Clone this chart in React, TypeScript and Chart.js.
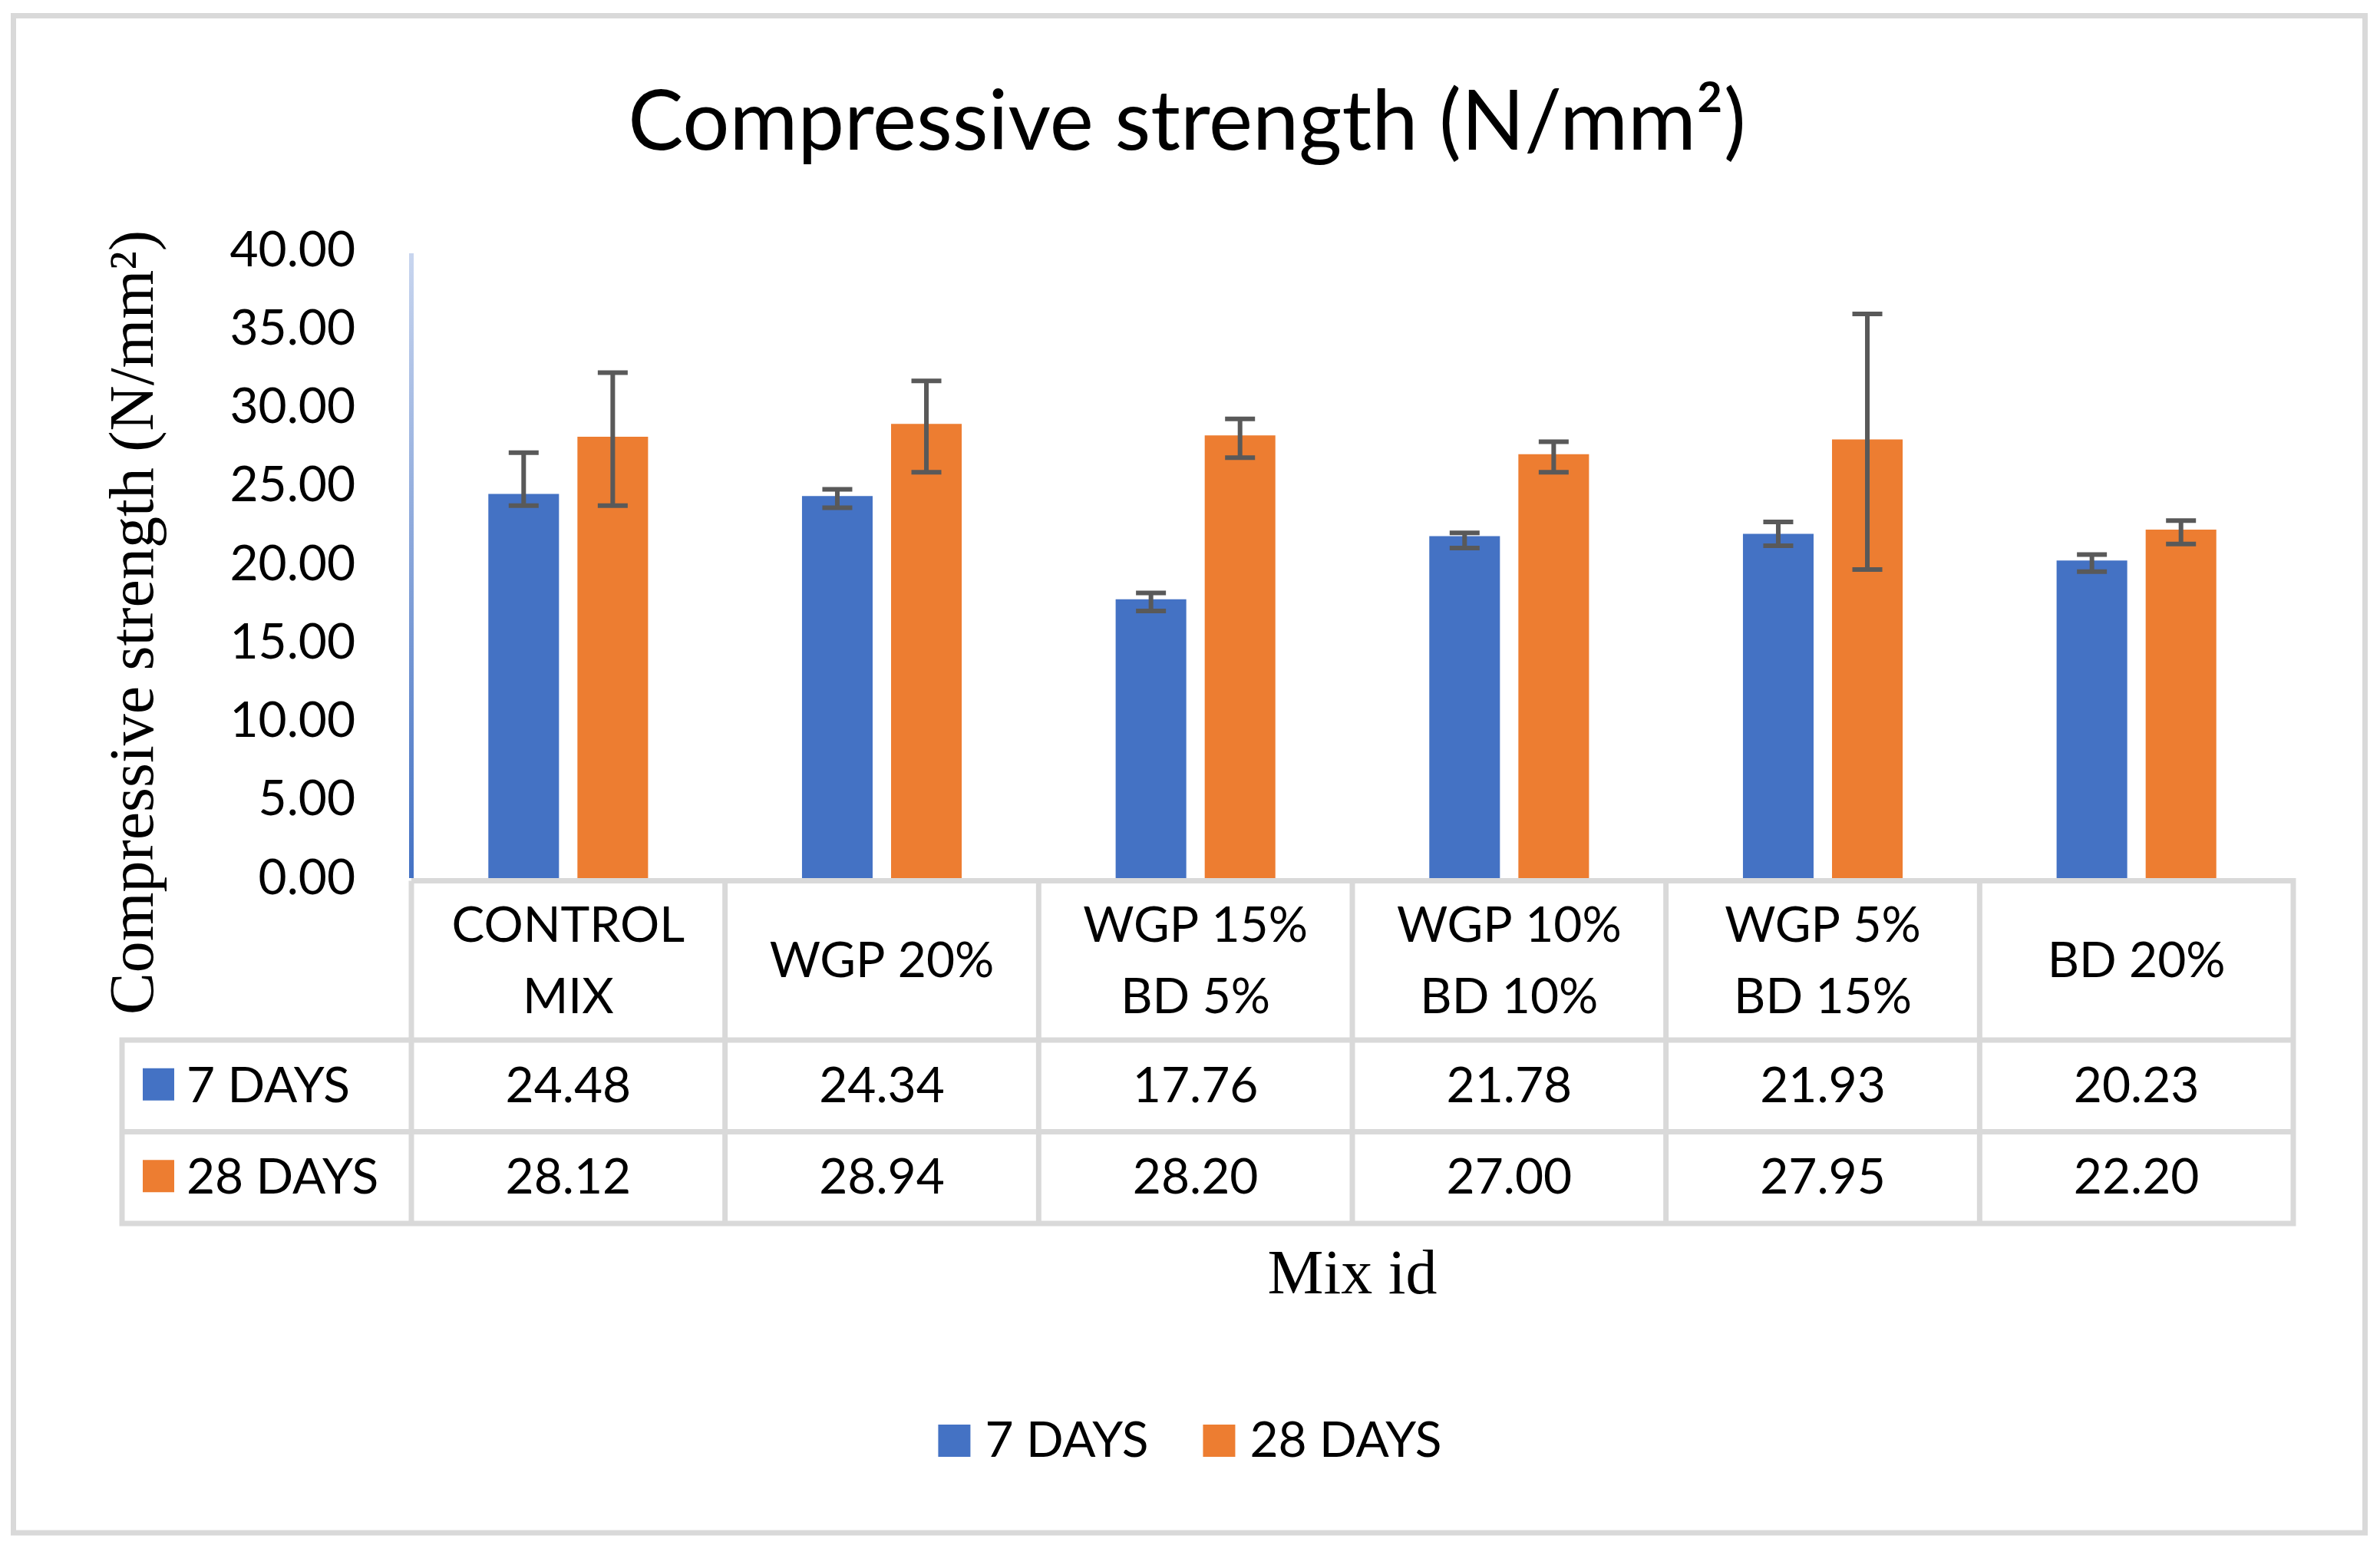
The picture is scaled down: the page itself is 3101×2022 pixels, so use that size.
import React, { useEffect, useRef } from 'react';
import { Chart, registerables } from 'chart.js';

Chart.register(...registerables);

// ---------- data ----------
const categories: string[][] = [
  ['CONTROL', 'MIX'],
  ['WGP 20%'],
  ['WGP 15%', 'BD 5%'],
  ['WGP 10%', 'BD 10%'],
  ['WGP 5%', 'BD 15%'],
  ['BD 20%'],
];
const seriesNames = ['7 DAYS', '28 DAYS'];
const days7 = [24.48, 24.34, 17.76, 21.78, 21.93, 20.23];
const days28 = [28.12, 28.94, 28.2, 27.0, 27.95, 22.2];
const days7ErrHigh = [27.1, 24.77, 18.17, 21.99, 22.69, 20.61];
const days7ErrLow = [23.73, 23.59, 17.02, 21.03, 21.17, 19.52];
const days28ErrHigh = [32.2, 31.67, 29.26, 27.8, 35.94, 22.77];
const days28ErrLow = [23.73, 25.86, 26.79, 25.86, 19.66, 21.28];
const yMin = 0;
const yMax = 40;
const yStep = 5;
const chartTitle = 'Compressive strength (N/mm\u00B2)';
const yTitle = 'Compressive strength (N/mm\u00B2)';
const xTitle = 'Mix id';

const colors = ['#4472C4', '#ED7D31'];
const errHigh = [days7ErrHigh, days28ErrHigh];
const errLow = [days7ErrLow, days28ErrLow];

const SANS = 'Lato, "Open Sans", sans-serif';
const SERIF = '"Liberation Serif", "Times New Roman", serif';
const GRID = '#D9D9D9';

const decorPlugin = {
  id: 'decor',
  beforeDraw(chart: any) {
    const { ctx, width, height } = chart;
    ctx.save();
    ctx.fillStyle = '#FFFFFF';
    ctx.fillRect(0, 0, width, height);
    ctx.restore();
  },
  afterDatasetsDraw(chart: any) {
    const { ctx } = chart;
    const yScale = chart.scales.y;
    ctx.save();
    ctx.strokeStyle = '#595959';
    ctx.lineWidth = 6;
    ctx.lineCap = 'butt';
    chart.data.datasets.forEach((ds: any, di: number) => {
      const meta = chart.getDatasetMeta(di);
      meta.data.forEach((bar: any, i: number) => {
        const x = bar.x;
        const yh = yScale.getPixelForValue(errHigh[di][i]);
        const yl = yScale.getPixelForValue(errLow[di][i]);
        const half = 19.5;
        ctx.beginPath();
        ctx.moveTo(x, yh);
        ctx.lineTo(x, yl);
        ctx.moveTo(x - half, yh);
        ctx.lineTo(x + half, yh);
        ctx.moveTo(x - half, yl);
        ctx.lineTo(x + half, yl);
        ctx.stroke();
      });
    });
    ctx.restore();
  },
  afterDraw(chart: any) {
    const { ctx, chartArea: area, width } = chart;
    const xScale = chart.scales.x;
    const n = chart.data.labels.length;
    const colW = (xScale.right - xScale.left) / n;
    ctx.save();

    // outer border
    ctx.strokeStyle = GRID;
    ctx.lineWidth = 7;
    ctx.strokeRect(17.5, 20.5, 3064, 1976.5);

    // title
    ctx.fillStyle = '#000000';
    ctx.font = `108px ${SANS}`;
    ctx.textAlign = 'center';
    ctx.textBaseline = 'alphabetic';
    ctx.fillText(chartTitle, width / 2 - 4, 195);

    // y axis line (gradient)
    const grad = ctx.createLinearGradient(0, area.top, 0, area.bottom);
    grad.addColorStop(0, '#C9D6EF');
    grad.addColorStop(1, '#4472C4');
    ctx.strokeStyle = grad;
    ctx.lineWidth = 6;
    ctx.beginPath();
    ctx.moveTo(area.left, area.top + 4);
    ctx.lineTo(area.left, area.bottom);
    ctx.stroke();

    // y axis title
    ctx.save();
    ctx.translate(199, 811);
    ctx.rotate(-Math.PI / 2);
    ctx.font = `82px ${SERIF}`;
    ctx.fillStyle = '#000000';
    ctx.textAlign = 'center';
    ctx.fillText(yTitle, 0, 0);
    ctx.restore();

    // data table
    const tTop = area.bottom + 3.5;
    const hdrBottom = area.bottom + 211;
    const r1Bottom = area.bottom + 330.5;
    const r2Bottom = area.bottom + 450;
    const labelLeft = 159;
    ctx.strokeStyle = GRID;
    ctx.lineWidth = 7;
    ctx.beginPath();
    ctx.moveTo(xScale.left, tTop);
    ctx.lineTo(xScale.right + 3.5, tTop);
    [hdrBottom, r1Bottom, r2Bottom].forEach((y) => {
      ctx.moveTo(labelLeft - 3.5, y);
      ctx.lineTo(xScale.right + 3.5, y);
    });
    for (let k = 0; k <= n; k++) {
      const x = xScale.left + k * colW;
      ctx.moveTo(x, tTop);
      ctx.lineTo(x, r2Bottom);
    }
    ctx.moveTo(labelLeft, hdrBottom);
    ctx.lineTo(labelLeft, r2Bottom);
    ctx.stroke();

    ctx.fillStyle = '#000000';
    ctx.font = `64px ${SANS}`;
    ctx.textAlign = 'center';
    const hdrCenter = area.bottom + 106;
    const lineGap = 93;
    const cap = 23;
    chart.data.labels.forEach((lab: string[], i: number) => {
      const cx = xScale.getPixelForValue(i);
      const lines = Array.isArray(lab) ? lab : [lab];
      const start = hdrCenter - ((lines.length - 1) * lineGap) / 2;
      lines.forEach((t, li) => ctx.fillText(t, cx, start + li * lineGap + cap));
    });
    const rowCenters = [(hdrBottom + r1Bottom) / 2 - 2, (r1Bottom + r2Bottom) / 2 - 2];
    chart.data.datasets.forEach((ds: any, di: number) => {
      const cy = rowCenters[di];
      ctx.fillStyle = colors[di];
      ctx.fillRect(186, cy - 21, 41, 42);
      ctx.fillStyle = '#000000';
      ctx.textAlign = 'left';
      ctx.fillText(ds.label, 243, cy + cap);
      ctx.textAlign = 'center';
      ds.data.forEach((v: number, i: number) => {
        ctx.fillText(v.toFixed(2), xScale.getPixelForValue(i), cy + cap);
      });
    });

    // x axis title
    ctx.font = `82px ${SERIF}`;
    ctx.textAlign = 'center';
    ctx.fillText(xTitle, (area.left + area.right) / 2, 1685);

    // legend
    ctx.font = `64px ${SANS}`;
    const box = 42;
    const gapBox = 19;
    const gapItem = 71;
    const widths = chart.data.datasets.map((ds: any) => ctx.measureText(ds.label).width);
    const total = widths.reduce((a: number, w: number) => a + box + gapBox + w, 0) + gapItem * (widths.length - 1);
    let lx = width / 2 - total / 2;
    ctx.textAlign = 'left';
    chart.data.datasets.forEach((ds: any, di: number) => {
      ctx.fillStyle = colors[di];
      ctx.fillRect(lx, 1856, box, box);
      ctx.fillStyle = '#000000';
      ctx.fillText(ds.label, lx + box + gapBox, 1898);
      lx += box + gapBox + widths[di] + gapItem;
    });

    ctx.restore();
  },
};

export default function App() {
  const ref = useRef<HTMLCanvasElement | null>(null);
  useEffect(() => {
    document.body.style.margin = '0';
    let chart: Chart | null = null;
    let cancelled = false;
    const make = () => {
      if (cancelled || !ref.current) return;
      chart = new Chart(ref.current, {
        type: 'bar',
        data: {
          labels: categories as any,
          datasets: [
            { label: seriesNames[0], data: days7, backgroundColor: colors[0] },
            { label: seriesNames[1], data: days28, backgroundColor: colors[1] },
          ],
        },
        options: {
          animation: false,
          responsive: false,
          devicePixelRatio: 1,
          layout: { padding: { top: 326, bottom: 878, left: 0, right: 113 } },
          datasets: { bar: { categoryPercentage: 0.568, barPercentage: 0.793 } },
          plugins: {
            legend: { display: false },
            title: { display: false },
            tooltip: { enabled: false },
          },
          scales: {
            x: { display: false },
            y: {
              min: yMin,
              max: yMax,
              ticks: {
                stepSize: yStep,
                padding: 73,
                color: '#000000',
                font: { family: SANS, size: 64 },
                callback: (v: any) => Number(v).toFixed(2),
              },
              grid: { display: false, drawTicks: false },
              border: { display: false },
              afterFit: (s: any) => {
                s.width = 536;
              },
            },
          },
        },
        plugins: [decorPlugin],
      });
    };
    const fonts = (document as any).fonts;
    if (fonts && fonts.load) {
      Promise.all([fonts.load(`64px Lato`), fonts.load(`82px "Liberation Serif"`)])
        .catch(() => null)
        .then(make);
    } else {
      make();
    }
    return () => {
      cancelled = true;
      if (chart) chart.destroy();
    };
  }, []);
  return (
    <div style={{ width: 3101, height: 2022, background: '#fff' }}>
      <canvas ref={ref} width={3101} height={2022} style={{ display: 'block', width: 3101, height: 2022 }} />
    </div>
  );
}
